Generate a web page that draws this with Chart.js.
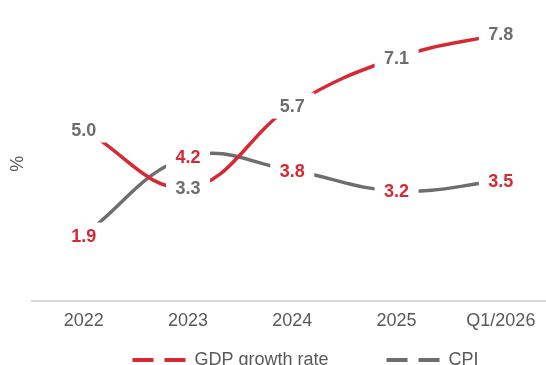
<!DOCTYPE html>
<html>
<head>
<meta charset="utf-8">
<script src="https://cdn.jsdelivr.net/npm/chart.js@4.4.0/dist/chart.umd.min.js"></script>
<style>
    html, body { margin: 0; padding: 0; background: #fff; overflow: hidden; }
    /* chart is a bit wider/taller than the window, the source picture is cropped the same way */
    #wrap { width: 553px; height: 379px; }
</style>
</head>
<body>
<div id="wrap"><canvas id="chart"></canvas></div>
<script>
// Data
const periods = ['2022', '2023', '2024', '2025', 'Q1/2026'];
const gdpGrowth = [5.0, 3.3, 5.7, 7.1, 7.8];
const cpi = [1.9, 4.2, 3.8, 3.2, 3.5];

const RED = '#d52a33';
const GREY = '#6d6e71';
const TEXT = '#595959';

Chart.defaults.font.family = '"Liberation Sans", Arial, sans-serif';

// Value labels on a white box, so the line looks broken around each point.
// Label colours are swapped relative to the lines, as in the source.
const valueLabels = {
    id: 'valueLabels',
    afterDatasetsDraw(chart) {
        const ctx = chart.ctx;
        ctx.save();
        ctx.font = 'bold 18px "Liberation Sans", Arial, sans-serif';
        ctx.textAlign = 'center';
        ctx.textBaseline = 'middle';
        chart.data.datasets.forEach((ds, i) => {
            const meta = chart.getDatasetMeta(i);
            meta.data.forEach((pt, j) => {
                ctx.fillStyle = '#fff';
                ctx.fillRect(pt.x - 22, pt.y - 13, 44, 26);
                ctx.fillStyle = ds.labelColor;
                ctx.fillText(ds.data[j].toFixed(1), pt.x, pt.y + 1);
            });
        });
        ctx.restore();
    }
};

new Chart(document.getElementById('chart'), {
    type: 'line',
    data: {
        labels: periods,
        datasets: [
            {
                label: 'GDP growth rate',
                data: gdpGrowth,
                borderColor: RED,
                backgroundColor: RED,
                borderWidth: 3.5,
                tension: 0.4,
                pointRadius: 0,
                labelColor: GREY
            },
            {
                label: 'CPI',
                data: cpi,
                borderColor: GREY,
                backgroundColor: GREY,
                borderWidth: 3.5,
                tension: 0.4,
                pointRadius: 0,
                labelColor: RED
            }
        ]
    },
    options: {
        responsive: true,
        maintainAspectRatio: false,
        animation: false,
        layout: {
            padding: { top: 27 }
        },
        scales: {
            x: {
                offset: true,
                grid: { display: false, drawTicks: false },
                border: { display: true, color: '#d9d9d9', width: 2 },
                ticks: {
                    color: TEXT,
                    font: { size: 18 },
                    padding: 10,
                    maxRotation: 0,
                    autoSkip: false
                },
                afterFit: function(scale) {
                    scale.height = 50.5;
                }
            },
            y: {
                min: 0,
                max: 8,
                grid: { display: false, drawTicks: false },
                border: { display: false },
                ticks: { display: false },
                title: {
                    display: true,
                    text: '%',
                    color: TEXT,
                    font: { size: 18 },
                    padding: { top: 7.5, bottom: 2.5 }
                }
            }
        },
        plugins: {
            tooltip: { enabled: false },
            legend: {
                position: 'bottom',
                labels: {
                    usePointStyle: true,
                    pointStyleWidth: 111,
                    padding: 0,
                    color: TEXT,
                    font: { size: 18 },
                    generateLabels: function(chart) {
                        return chart.data.datasets.map((ds, i) => ({
                            text: ds.label,
                            pointStyle: 'line',
                            strokeStyle: ds.borderColor,
                            fillStyle: ds.borderColor,
                            lineWidth: 4,
                            lineDash: [0, 58, 21, 11, 21, 100],
                            fontColor: TEXT,
                            hidden: false,
                            datasetIndex: i
                        }));
                    }
                }
            }
        }
    },
    plugins: [valueLabels]
});
</script>
</body>
</html>
